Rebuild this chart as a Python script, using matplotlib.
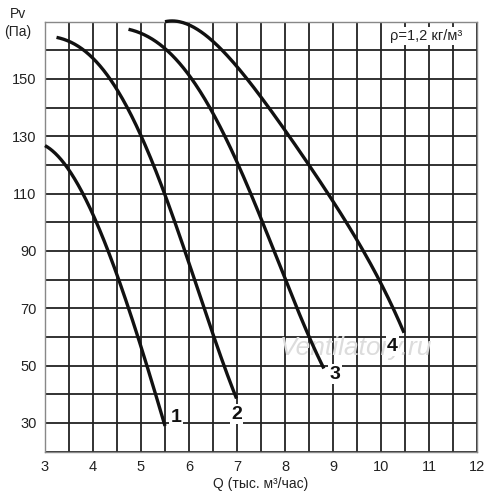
import matplotlib.pyplot as plt
import numpy as np

plt.rcParams['font.family'] = ['Liberation Sans', 'DejaVu Sans']

# curve points (Q, Pv)
q1 = [3.0, 3.5, 4.08, 4.29, 4.49, 5.01, 5.5]
p1 = [126.5, 118.6, 100.1, 90.9, 80.5, 57.4, 28.5]
q2 = [3.24, 3.52, 4.03, 4.49, 4.98, 5.5, 6.02, 6.51, 6.99]
p2 = [164.8, 162.5, 156.1, 147.5, 131.3, 108.2, 85.1, 60.8, 38.3]
q3 = [4.74, 5.5, 6.02, 6.51, 6.99, 7.27, 7.76, 8.0, 8.49, 8.81]
p3 = [167.4, 160.2, 150.4, 139.4, 120.9, 109.3, 90.9, 80.5, 60.8, 48.7]
q4 = [5.5, 5.67, 6.02, 6.51, 7.27, 7.51, 8.0, 8.49, 8.97, 9.53, 9.98, 10.48]
p4 = [169.8, 170.3, 168.9, 162.5, 148.6, 144.0, 131.3, 120.9, 108.2, 91.5, 80.5, 61.1]

curves = [(q1, p1), (q2, p2), (q3, p3), (q4, p4)]
fit_deg = [3, 4, 4, 4]
names = ['1', '2', '3', '4']
label_pos = [(5.73, 32.0), (6.99, 33.0), (9.04, 47.0), (10.24, 56.8)]

xticks = [3, 4, 5, 6, 7, 8, 9, 10, 11, 12]
yticks = [30, 50, 70, 90, 110, 130, 150]

fig = plt.figure(figsize=(5, 5), dpi=100)
ax = fig.add_axes([0.09, 0.097, 0.864, 0.860])

ax.set_xlim(3, 12)
ax.set_ylim(20, 170)
xg = np.arange(3, 12.01, 0.5)
yg = np.arange(20, 170.01, 10)
ax.set_xticks(xg)
ax.set_yticks(yg)
ax.grid(True, color='#222222', linewidth=1.3)
ax.set_axisbelow(True)
ax.set_xticklabels([str(int(v)) if v in xticks else '' for v in xg])
ax.set_yticklabels([str(int(v)) if v in yticks else '' for v in yg])
ax.tick_params(length=0, labelsize=10.5, colors='#222222', pad=6)
for s in ax.spines.values():
    s.set_color('#888888')
    s.set_linewidth(1.0)

# smooth polynomial through the read points
for (qs, ps), d in zip(curves, fit_deg):
    c = np.polyfit(qs, ps, d)
    sx = np.linspace(qs[0], qs[-1], 200)
    ax.plot(sx, np.polyval(c, sx), color='#111111', linewidth=2.4,
            solid_capstyle='butt', clip_on=False, zorder=3)

ax.text(9.48, 56.2, 'Ventilatory.ru', fontsize=19, style='italic', ha='center', va='center',
        color='#dcdcdc', zorder=2)

for name, (lx, ly) in zip(names, label_pos):
    ax.text(lx, ly, name, fontsize=14, fontweight='bold', ha='center', va='center',
            color='#111111', bbox=dict(facecolor='white', edgecolor='none', pad=1.0), zorder=4)

ax.text(10.95, 164.8, 'ρ=1,2 кг/м³', fontsize=10.5, ha='center', va='center', color='#222222',
        bbox=dict(facecolor='white', edgecolor='none', pad=1.5), zorder=4)

fig.text(0.036, 0.972, 'Pv', fontsize=10, ha='center', va='center', color='#222222')
fig.text(0.036, 0.936, '(Па)', fontsize=10, ha='center', va='center', color='#222222')
ax.set_xlabel('Q (тыс. м³/час)', fontsize=10, color='#222222', labelpad=2)

fig.savefig('out.png', dpi=100)
